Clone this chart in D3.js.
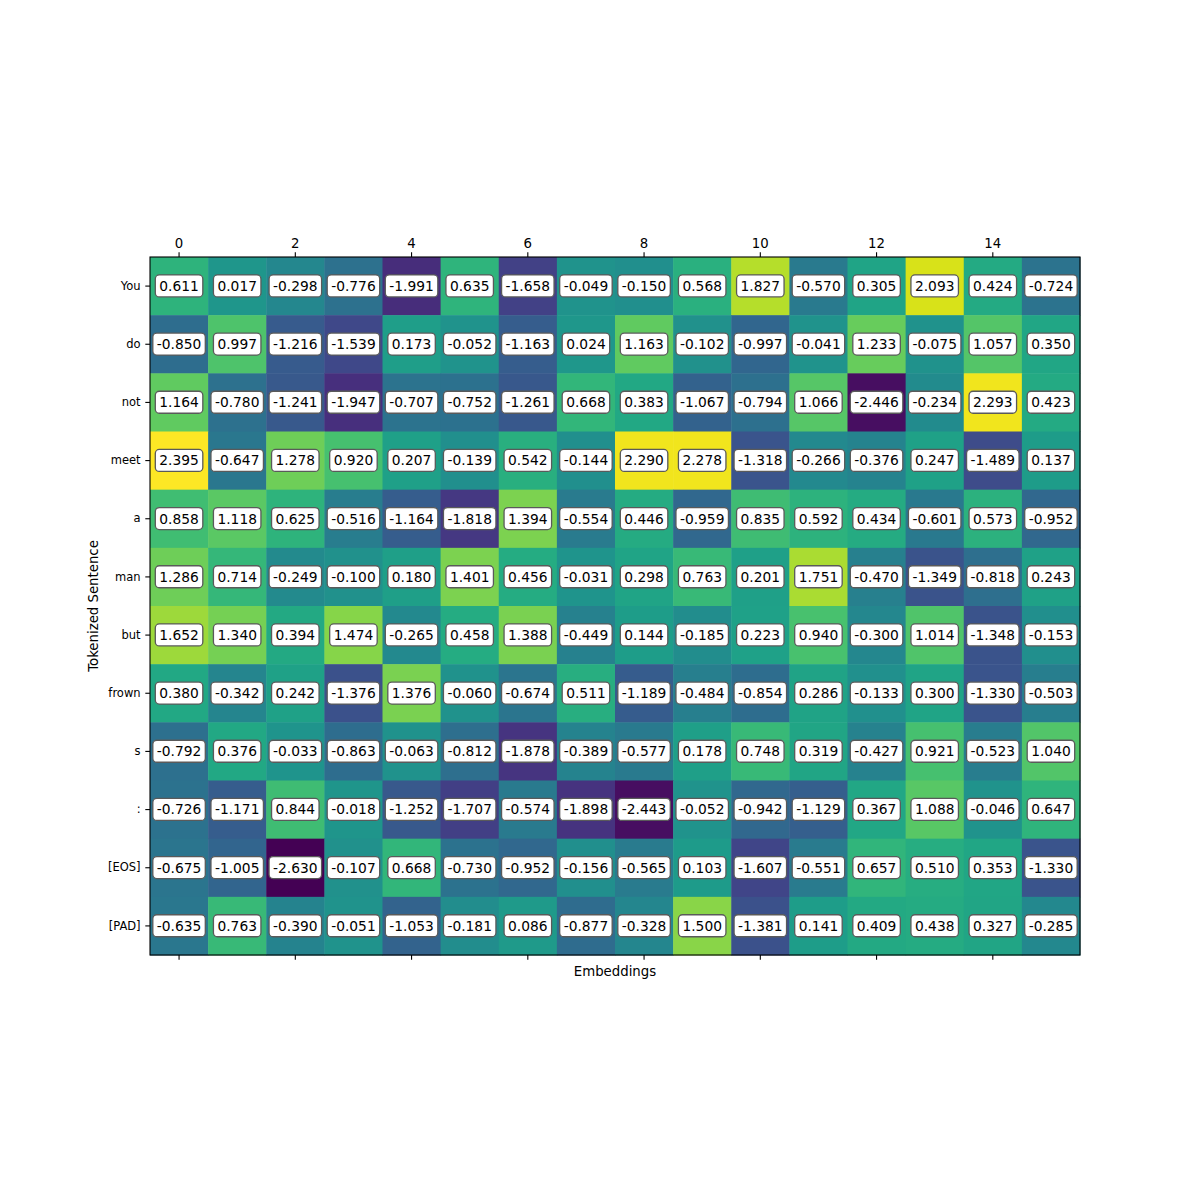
<!DOCTYPE html>
<html>
<head>
<meta charset="utf-8">
<script src="https://cdn.jsdelivr.net/npm/d3@7"></script>
<style>
  body { margin: 0; background: #fff; }
  text { font-family: "DejaVu Sans", sans-serif; }
</style>
</head>
<body>
<div id="chart"></div>
<script>
// tokens (rows) and embedding dims (columns)
const tokens = ["You", "do", "not", "meet", "a", "man", "but", "frown", "s", ":", "[EOS]", "[PAD]"];
const dims = d3.range(16);
const xTicks = [0, 2, 4, 6, 8, 10, 12, 14];

const rowYou   = [0.611, 0.017, -0.298, -0.776, -1.991, 0.635, -1.658, -0.049, -0.150, 0.568, 1.827, -0.570, 0.305, 2.093, 0.424, -0.724];
const rowDo    = [-0.850, 0.997, -1.216, -1.539, 0.173, -0.052, -1.163, 0.024, 1.163, -0.102, -0.997, -0.041, 1.233, -0.075, 1.057, 0.350];
const rowNot   = [1.164, -0.780, -1.241, -1.947, -0.707, -0.752, -1.261, 0.668, 0.383, -1.067, -0.794, 1.066, -2.446, -0.234, 2.293, 0.423];
const rowMeet  = [2.395, -0.647, 1.278, 0.920, 0.207, -0.139, 0.542, -0.144, 2.290, 2.278, -1.318, -0.266, -0.376, 0.247, -1.489, 0.137];
const rowA     = [0.858, 1.118, 0.625, -0.516, -1.164, -1.818, 1.394, -0.554, 0.446, -0.959, 0.835, 0.592, 0.434, -0.601, 0.573, -0.952];
const rowMan   = [1.286, 0.714, -0.249, -0.100, 0.180, 1.401, 0.456, -0.031, 0.298, 0.763, 0.201, 1.751, -0.470, -1.349, -0.818, 0.243];
const rowBut   = [1.652, 1.340, 0.394, 1.474, -0.265, 0.458, 1.388, -0.449, 0.144, -0.185, 0.223, 0.940, -0.300, 1.014, -1.348, -0.153];
const rowFrown = [0.380, -0.342, 0.242, -1.376, 1.376, -0.060, -0.674, 0.511, -1.189, -0.484, -0.854, 0.286, -0.133, 0.300, -1.330, -0.503];
const rowS     = [-0.792, 0.376, -0.033, -0.863, -0.063, -0.812, -1.878, -0.389, -0.577, 0.178, 0.748, 0.319, -0.427, 0.921, -0.523, 1.040];
const rowColon = [-0.726, -1.171, 0.844, -0.018, -1.252, -1.707, -0.574, -1.898, -2.443, -0.052, -0.942, -1.129, 0.367, 1.088, -0.046, 0.647];
const rowEos   = [-0.675, -1.005, -2.630, -0.107, 0.668, -0.730, -0.952, -0.156, -0.565, 0.103, -1.607, -0.551, 0.657, 0.510, 0.353, -1.330];
const rowPad   = [-0.635, 0.763, -0.390, -0.051, -1.053, -0.181, 0.086, -0.877, -0.328, 1.500, -1.381, 0.141, 0.409, 0.438, 0.327, -0.285];

const matrix = [rowYou, rowDo, rowNot, rowMeet, rowA, rowMan, rowBut, rowFrown, rowS, rowColon, rowEos, rowPad];

// flatten into cells
const cells = [];
matrix.forEach((row, i) => row.forEach((v, j) => cells.push({ row: tokens[i], col: j, value: v })));

const margin = { top: 257, right: 120, bottom: 245, left: 150 };
const width = 1200 - margin.left - margin.right;
const height = 1200 - margin.top - margin.bottom;

const svg = d3.select("#chart")
    .append("svg")
    .attr("width", 1200)
    .attr("height", 1200)
    .append("g")
    .attr("transform", `translate(${margin.left}, ${margin.top})`);

const x = d3.scaleBand().domain(dims).range([0, width]).padding(0);
const y = d3.scaleBand().domain(tokens).range([0, height]).padding(0);
const color = d3.scaleSequential(d3.interpolateViridis)
    .domain(d3.extent(cells, d => d.value));

// heatmap cells
svg.append("g")
    .selectAll("rect")
    .data(cells)
    .join("rect")
    .attr("x", d => x(d.col))
    .attr("y", d => y(d.row))
    .attr("width", x.bandwidth() + 0.5)
    .attr("height", y.bandwidth() + 0.5)
    .attr("fill", d => color(d.value));

// frame
svg.append("rect")
    .attr("width", width)
    .attr("height", height)
    .attr("fill", "none")
    .attr("stroke", "#000")
    .attr("stroke-width", 1.1);

// axes
const tickSize = 4.7;
const xTop = svg.append("g")
    .call(d3.axisTop(x).tickValues(xTicks).tickSize(tickSize).tickPadding(4.7));
const xBottom = svg.append("g")
    .attr("transform", `translate(0, ${height})`)
    .call(d3.axisBottom(x).tickValues(xTicks).tickSize(tickSize).tickFormat(""));
const yLeft = svg.append("g")
    .call(d3.axisLeft(y).tickSize(tickSize).tickPadding(4.7));

[xTop, xBottom, yLeft].forEach(a => {
    a.select(".domain").remove();
    a.selectAll(".tick line").attr("stroke", "#000").attr("stroke-width", 1.1);
});
xTop.selectAll(".tick text").attr("font-size", 13.3).attr("font-family", "DejaVu Sans").attr("fill", "#000");
yLeft.selectAll(".tick text").attr("font-size", 11.5).attr("font-family", "DejaVu Sans").attr("fill", "#000");

// annotations with rounded white boxes
const labels = svg.append("g")
    .selectAll("g")
    .data(cells)
    .join("g")
    .attr("transform", d => `translate(${x(d.col) + x.bandwidth() / 2}, ${y(d.row) + y.bandwidth() / 2})`);

labels.append("rect").attr("class", "box");
labels.append("text")
    .attr("text-anchor", "middle")
    .attr("dy", "0.35em")
    .attr("font-size", 13.8)
    .attr("fill", "#000")
    .text(d => d.value.toFixed(3));

labels.each(function () {
    const g = d3.select(this);
    const bb = g.select("text").node().getBBox();
    const pad = 4;
    g.select("rect.box")
        .attr("x", bb.x - pad)
        .attr("y", bb.y - pad + 1)
        .attr("width", bb.width + 2 * pad)
        .attr("height", bb.height + 2 * pad - 2)
        .attr("rx", 4)
        .attr("ry", 4)
        .attr("fill", "#fff")
        .attr("stroke", "#5a5a5a")
        .attr("stroke-width", 1.3);
});

// axis labels
svg.append("text")
    .attr("x", width / 2)
    .attr("y", height + 21)
    .attr("text-anchor", "middle")
    .attr("font-size", 13.3)
    .text("Embeddings");

svg.append("text")
    .attr("transform", `translate(-52, ${height / 2}) rotate(-90)`)
    .attr("text-anchor", "middle")
    .attr("font-size", 13.3)
    .text("Tokenized Sentence");
</script>
</body>
</html>
